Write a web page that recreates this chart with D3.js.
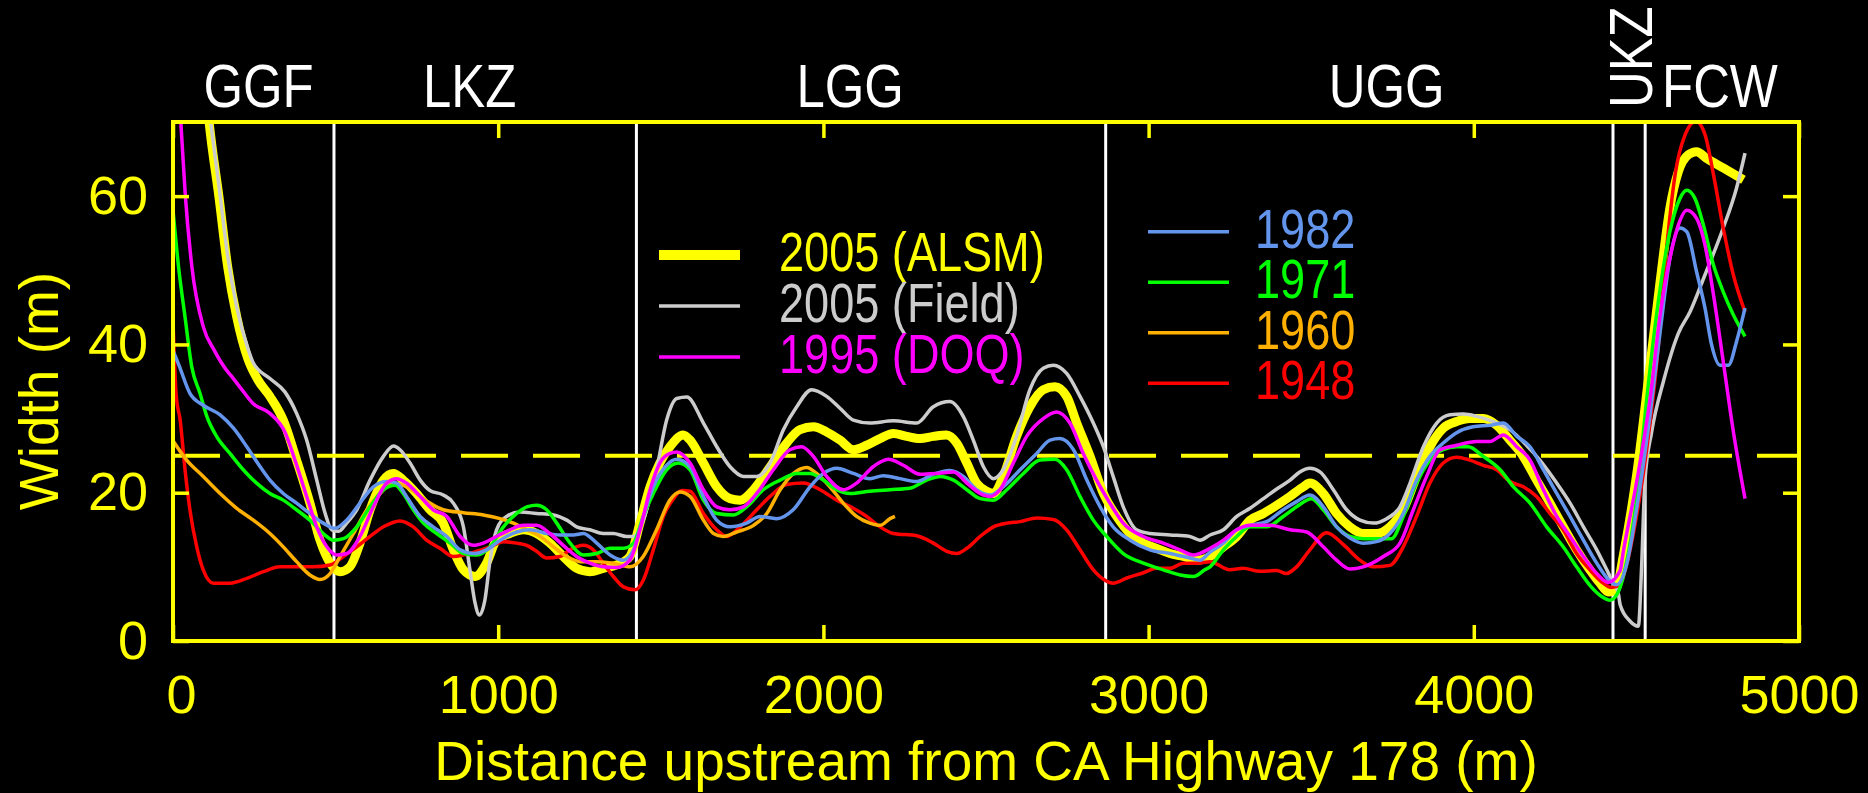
<!DOCTYPE html>
<html>
<head>
<meta charset="utf-8">
<script src="https://cdn.jsdelivr.net/npm/d3@7"></script>
<style>
  body { margin: 0; background: #000; }
  svg { display: block; }
  text { font-family: "Liberation Sans", Arial, sans-serif; }
</style>
</head>
<body>
<svg id="chart"></svg>
<script>
/* channel width (m) vs distance upstream (m) */
var alsm2005 = [[60,95],[100,75],[111,70],[141,60],[168,50.5],[196,43.7],[230,38.1],[260,35.3],[298,33],[339,29.8],[380,24.4],[421,18.6],[452,13.6],[483,10.5],[514,9.35],[544,10],[575,13.2],[606,17.7],[647,21.7],[678,22.6],[708,21.7],[749,19.9],[790,17.7],[831,15.9],[862,12.3],[893,9.6],[929,8.7],[964,10.5],[995,13.6],[1036,14.5],[1077,15],[1118,14.5],[1159,13.2],[1200,11.4],[1241,9.8],[1282,9.35],[1323,9.8],[1364,10.25],[1405,11.4],[1436,15.9],[1467,20.8],[1497,24],[1528,26.2],[1569,27.8],[1590,27.1],[1631,24],[1672,20.8],[1713,19.2],[1744,19],[1785,20.4],[1836,23.5],[1887,26.7],[1928,28.5],[1969,28.9],[2010,28.2],[2051,27.1],[2092,25.8],[2133,26.4],[2174,27.3],[2215,28],[2256,27.6],[2297,27.3],[2338,27.6],[2379,27.8],[2410,26.7],[2441,24],[2471,21.3],[2502,20.2],[2523,19.9],[2553,22.2],[2594,27.6],[2635,31.6],[2676,33.9],[2712,34.3],[2748,33],[2779,29.4],[2820,24.9],[2861,19.9],[2902,16.8],[2943,14.5],[2984,13.2],[3025,12.5],[3066,11.8],[3107,11.4],[3148,10.9],[3189,11.4],[3230,12.7],[3271,14.1],[3312,16.3],[3353,17.2],[3394,18.3],[3435,19.5],[3476,20.8],[3496,21.3],[3537,19.9],[3578,17.2],[3619,15.4],[3660,14.5],[3701,14.5],[3742,15.4],[3783,17.7],[3824,22.2],[3865,26.2],[3906,28.7],[3947,29.6],[3988,30],[4029,30],[4070,29.1],[4111,27.1],[4152,24.9],[4193,21.7],[4234,18.6],[4275,15.4],[4316,12.3],[4357,9.6],[4388,7.8],[4414,6.6],[4439,7.2],[4460,11.6],[4501,22.5],[4542,37.2],[4573,48.5],[4603,58.4],[4629,63.3],[4660,65.6],[4685,66],[4716,65.1],[4767,63.8],[4829,62.2]];

var field2005 = [[60,97],[100,77],[111,72],[141,61.5],[168,52],[196,45],[230,39.5],[247,37.5],[298,35.4],[344,33.6],[380,30.7],[411,27.1],[442,21.7],[468,17.2],[488,15],[510,14.8],[534,15.9],[565,17.7],[606,21.7],[647,24.9],[678,26.3],[698,25.8],[729,24],[760,21.7],[790,20.3],[831,19.7],[862,18.6],[893,15.4],[913,9.6],[929,5.1],[942,3.5],[959,5.5],[975,10.9],[995,15],[1026,16.8],[1067,17.4],[1118,17.2],[1170,17],[1211,16.3],[1241,15.4],[1282,15],[1323,14.5],[1354,14.5],[1395,14.1],[1416,14.1],[1446,16.3],[1487,23.1],[1518,29.8],[1549,32.7],[1580,32.9],[1631,29.4],[1672,26.2],[1713,23.5],[1754,22.2],[1795,22.2],[1836,24],[1877,28.5],[1918,31.6],[1964,33.9],[2010,33],[2051,31.4],[2092,29.8],[2143,29.4],[2215,29.7],[2287,29.4],[2338,31.6],[2389,32.3],[2430,30.3],[2461,27.1],[2492,23.5],[2523,21.9],[2553,23.1],[2594,27.6],[2635,33.9],[2676,36.8],[2707,37.2],[2748,36.1],[2789,33],[2830,29.4],[2861,26.2],[2891,22.2],[2922,18.1],[2963,15],[3004,14.5],[3066,14.3],[3127,14.1],[3158,13.6],[3189,14.3],[3230,15],[3271,16.8],[3312,17.9],[3353,19.2],[3394,20.5],[3435,21.7],[3465,22.8],[3496,23.3],[3527,22.8],[3568,20.4],[3609,17.7],[3650,16.3],[3691,15.9],[3732,16.5],[3773,18.1],[3804,21.3],[3845,26.2],[3886,29.4],[3927,30.5],[3968,30.6],[4009,30.3],[4060,29.6],[4111,28.5],[4162,26.4],[4203,24.4],[4255,21.3],[4296,18.6],[4337,15.4],[4378,12.3],[4409,9.6],[4429,7.8],[4444,6.5],[4450,4.9],[4480,2.7],[4506,2],[4516,10],[4526,21.5],[4547,28.2],[4583,35],[4629,41.5],[4665,44.4],[4711,49.4],[4767,55.7],[4808,61.1],[4834,65.8]];

var doq1995 = [[0,85],[24,70],[38,60],[58,50.5],[93,42.4],[127,39.2],[165,36.5],[182,35.6],[210,34],[247,32],[298,30.7],[344,28.2],[375,24.4],[411,19.5],[442,15.4],[473,12.7],[503,11.6],[534,11.8],[575,14.1],[616,18.1],[657,21.3],[688,21.9],[718,21.3],[760,19.5],[800,17.7],[842,16.8],[883,14.1],[924,12.9],[954,13.2],[995,14.1],[1036,15],[1077,15.6],[1118,15.6],[1159,14.5],[1200,12.9],[1241,11.4],[1282,10.5],[1323,10],[1364,9.9],[1405,10.9],[1436,15],[1467,20.4],[1497,24],[1528,25.3],[1549,25.5],[1590,24],[1631,20.4],[1672,18.1],[1713,17.7],[1754,18.1],[1795,19.9],[1846,23.1],[1897,25.8],[1933,26.2],[1969,24.9],[2010,22.2],[2061,20.4],[2102,21.3],[2153,23.5],[2200,24.5],[2246,23.7],[2297,22.5],[2348,22.6],[2400,22.8],[2441,21.3],[2482,19.9],[2512,19.5],[2543,20.4],[2584,24],[2625,27.6],[2676,30],[2717,30.9],[2758,29.4],[2799,25.3],[2840,21.7],[2881,18.6],[2922,15.9],[2984,14.1],[3045,13.2],[3096,12.3],[3138,11.6],[3189,12.5],[3230,13.6],[3271,15],[3312,15.6],[3373,15.6],[3435,15],[3486,14.7],[3537,12.7],[3578,10.9],[3619,9.7],[3660,10],[3722,11.4],[3773,13.2],[3814,17.7],[3855,22.2],[3896,25.8],[3947,26.4],[4009,26.9],[4050,26.9],[4091,27.8],[4132,26.2],[4173,24.4],[4214,20.4],[4255,16.8],[4296,14.1],[4337,11.4],[4378,9.1],[4414,7.9],[4450,9.5],[4460,12.1],[4501,21.5],[4542,32.7],[4573,44],[4603,51.6],[4629,56.1],[4655,58.1],[4685,57],[4711,53.4],[4737,46.7],[4767,37.7],[4798,28.3],[4834,19.2]];

var y1982 = [[0,39.2],[20,37],[52,33.4],[93,31.8],[145,30.5],[186,28.7],[227,26.2],[268,23.5],[298,21.7],[339,19.9],[380,18.6],[421,17.2],[462,15.9],[498,15.2],[534,16.3],[575,18.6],[616,20.8],[657,21.5],[688,21.3],[718,19.5],[760,16.8],[800,15.4],[842,14.1],[883,12.3],[924,11.8],[964,12.3],[1006,13.6],[1057,14.7],[1098,15],[1149,14.5],[1190,14.3],[1231,14.3],[1262,14.5],[1303,13.2],[1344,11.6],[1385,10.9],[1416,12.3],[1446,16.8],[1477,20.8],[1518,23.7],[1549,24.5],[1590,23.5],[1631,19.5],[1672,16.3],[1713,15.4],[1764,15.9],[1805,16.8],[1856,16.5],[1907,17.7],[1959,20.8],[2000,22.6],[2041,23.3],[2092,22.6],[2143,21.9],[2184,22.3],[2236,21.9],[2287,21.5],[2338,22.5],[2389,23],[2430,22.2],[2471,20.4],[2512,19.7],[2553,20.8],[2605,23.1],[2656,25.3],[2697,27.1],[2727,27.3],[2769,25.8],[2810,21.7],[2851,18.1],[2891,15.4],[2943,13.6],[3004,12.3],[3066,11.8],[3127,11.2],[3158,10.9],[3189,12],[3230,13.2],[3271,15],[3312,15.6],[3363,16.1],[3414,17.7],[3455,18.8],[3496,19.7],[3537,18.1],[3578,15.4],[3619,13.9],[3660,13.2],[3701,13.4],[3742,14.5],[3783,17.2],[3824,21.7],[3865,24.9],[3906,26.7],[3947,28.1],[3998,28.9],[4050,29.1],[4091,29.4],[4132,27.6],[4173,26.2],[4214,23.1],[4255,19.9],[4296,16.8],[4337,13.6],[4378,10.5],[4414,8.3],[4439,7.6],[4470,10.3],[4501,17.9],[4542,30.5],[4573,41.7],[4603,51.6],[4634,55.7],[4655,55.2],[4685,49.8],[4711,44.9],[4731,40],[4757,37.2],[4783,37.2],[4808,40.4],[4834,44.9]];

var y1971 = [[0,58.1],[17,50.5],[37,43.7],[58,36.9],[83,33.4],[104,30.3],[134,27.6],[175,25.3],[216,23.1],[257,21.3],[298,19.9],[339,19],[380,17.7],[421,16.3],[462,14.5],[493,13.6],[524,13.8],[565,15.4],[606,18.1],[647,20.4],[683,21],[708,19.9],[739,17.7],[770,15.9],[811,14.5],[852,13.2],[893,11.8],[934,11.6],[975,12.7],[1016,15.4],[1057,17.2],[1088,18.1],[1118,18.3],[1149,17.7],[1180,15.9],[1221,13.2],[1262,11.6],[1303,11.8],[1344,12.5],[1385,12.5],[1416,13.2],[1446,16.8],[1477,19.9],[1518,23.1],[1554,24],[1590,23.1],[1631,19],[1672,17.2],[1723,17],[1764,18.1],[1815,20.4],[1867,21.7],[1918,22.6],[1959,22.6],[2000,21.7],[2041,20.4],[2082,19.9],[2143,20.2],[2205,20.4],[2266,20.6],[2318,21.7],[2359,22.2],[2400,21.7],[2441,20.4],[2482,19.2],[2523,19],[2564,20.4],[2615,22.6],[2666,24.4],[2712,24.5],[2748,23.1],[2789,19.5],[2830,16.3],[2871,14.1],[2922,11.8],[2984,10.5],[3045,9.6],[3097,8.9],[3138,8.7],[3173,9.6],[3189,10],[3230,12.3],[3271,14.1],[3312,15.4],[3363,15.4],[3414,16.8],[3455,18.1],[3501,19.2],[3537,17.7],[3578,15.4],[3619,14.1],[3660,13.8],[3701,13.8],[3747,13.8],[3783,16.8],[3824,21.3],[3865,24.4],[3906,25.8],[3947,26.2],[3983,26.2],[4029,24.9],[4081,23.1],[4122,20.8],[4173,18.6],[4224,15.4],[4275,12.7],[4316,10],[4357,7.5],[4393,6],[4419,5.5],[4444,6.6],[4470,10.7],[4501,19.3],[4532,32.7],[4562,44],[4603,55.2],[4634,59.7],[4655,60.8],[4680,59.7],[4706,56.1],[4737,50.7],[4767,47.1],[4798,44],[4834,41.1]];

var y1960 = [[0,27],[42,24.4],[93,22.2],[145,19.9],[196,17.9],[247,16.3],[298,14.5],[339,12.7],[380,10.7],[421,8.9],[452,8.3],[483,9.1],[514,11.4],[555,14.5],[596,17.7],[637,19.9],[678,21.3],[708,21],[749,19.9],[790,18.6],[831,17.7],[893,17.3],[954,17],[1006,16.5],[1047,15.9],[1088,15],[1129,14.1],[1170,12.7],[1211,11.4],[1252,10.7],[1303,10.7],[1354,10.5],[1405,10],[1446,11.4],[1487,15],[1528,19],[1559,20.1],[1590,19.5],[1631,16.3],[1662,14.5],[1692,14.1],[1733,14.7],[1785,15.6],[1826,17.2],[1867,20.4],[1908,22.6],[1949,23.4],[1979,22.6],[2020,20.8],[2061,18.6],[2102,16.8],[2143,15.9],[2174,15.6],[2205,16.5],[2220,16.8]];

var y1948 = [[0,43.3],[10,33],[22,29.8],[37,23.1],[52,17.7],[73,12.7],[93,9.6],[124,7.8],[175,7.8],[227,8.45],[278,9.35],[329,10],[380,10],[431,10],[483,10.25],[524,11.4],[565,12.7],[606,14.1],[647,15.4],[698,16.2],[739,15.4],[780,13.6],[821,12.5],[862,11.4],[893,11.6],[934,12.1],[975,12.7],[1016,13.4],[1057,13.2],[1088,12.9],[1118,12.1],[1149,11.2],[1190,11.4],[1221,12.3],[1262,12.9],[1292,12.3],[1323,10.5],[1354,8.7],[1385,7.3],[1421,6.9],[1446,8.2],[1477,12.3],[1508,16.8],[1539,19.2],[1565,20.3],[1590,20.2],[1631,17.2],[1672,15],[1703,14.1],[1744,15.4],[1795,17.7],[1836,19.5],[1887,21.1],[1938,21.3],[1990,20.4],[2041,19],[2092,17.9],[2133,16.8],[2174,15.4],[2215,14.5],[2287,14.2],[2338,13.2],[2379,12.1],[2410,11.8],[2441,12.5],[2482,14.1],[2523,15.4],[2564,15.9],[2605,16.1],[2656,16.6],[2707,16.4],[2748,15],[2789,12.3],[2830,9.6],[2866,8.2],[2891,7.8],[2933,8.5],[2984,9.2],[3025,9.8],[3066,9.8],[3107,10.5],[3148,10.5],[3189,10.7],[3250,9.6],[3291,9.8],[3343,9.4],[3394,9.5],[3424,9.1],[3455,10],[3496,12.3],[3547,14.6],[3599,13],[3650,10.9],[3691,10],[3742,10.2],[3783,12.7],[3824,16.8],[3865,21.3],[3906,24],[3947,24.8],[3988,24.4],[4029,23.7],[4070,23.1],[4111,21.5],[4152,20.8],[4193,19.5],[4234,17.2],[4275,15],[4316,11.8],[4357,9.6],[4398,7.8],[4424,7.2],[4450,7.6],[4470,10.3],[4501,17],[4532,26],[4562,37.2],[4593,53],[4619,62.9],[4650,68.3],[4683,70.1],[4711,68.3],[4737,62.9],[4767,55.7],[4798,49.4],[4834,44.4]];

// reach boundaries and reach names (x in m)
var boundaries = [495, 1425, 2868, 4428, 4527];
var reachNames = ['GGF', 'LKZ', 'LGG', 'UGG', 'FCW'];
var reachPos = [263, 912, 2082, 3732, 4757];
var xTicks = [0, 1000, 2000, 3000, 4000, 5000];
var yTicks = [0, 20, 40, 60];
var refWidth = 25;

var series = [
  {name: '2005 (ALSM)', data: alsm2005, color: '#ffff00', w: 9},
  {name: '2005 (Field)', data: field2005, color: '#cccccc', w: 3.5},
  {name: '1948', data: y1948, color: '#ff0000', w: 3.5},
  {name: '1960', data: y1960, color: '#ffb000', w: 3.5},
  {name: '1971', data: y1971, color: '#00ff00', w: 3.5},
  {name: '1982', data: y1982, color: '#6495ed', w: 3.5},
  {name: '1995 (DOQ)', data: doq1995, color: '#ff00ff', w: 3.5}
];
var legendLeft = ['2005 (ALSM)', '2005 (Field)', '1995 (DOQ)'];
var legendRight = ['1982', '1971', '1960', '1948'];

var width = 1868, height = 793;
var margin = {top: 122, right: 69, bottom: 152, left: 173};
var yellow = '#ffff00';
var squeeze = 0.82;   // no narrow font installed, so squeeze the labels

var svg = d3.select('#chart')
  .attr('width', width)
  .attr('height', height)
  .style('background', '#000');

var x = d3.scaleLinear().domain([0, 5000]).range([margin.left, width - margin.right]);
var y = d3.scaleLinear().domain([0, 70]).range([height - margin.bottom, margin.top]);

svg.append('clipPath').attr('id', 'plot')
  .append('rect')
    .attr('x', x(0)).attr('y', y(70))
    .attr('width', x(5000) - x(0)).attr('height', y(0) - y(70));

// reach boundaries
svg.selectAll('.bound').data(boundaries).enter()
  .append('line')
    .attr('x1', function (d) { return x(d); })
    .attr('x2', function (d) { return x(d); })
    .attr('y1', y(70)).attr('y2', y(0))
    .attr('stroke', '#fff').attr('stroke-width', 3);

svg.append('line')
  .attr('x1', x(0)).attr('x2', x(5000))
  .attr('y1', y(refWidth)).attr('y2', y(refWidth))
  .attr('stroke', yellow).attr('stroke-width', 4)
  .attr('stroke-dasharray', '47,25');

var line = d3.line()
  .x(function (d) { return x(d[0]); })
  .y(function (d) { return y(d[1]); })
  .curve(d3.curveMonotoneX);

svg.append('g').attr('clip-path', 'url(#plot)')
  .selectAll('path').data(series).enter()
  .append('path')
    .attr('d', function (d) { return line(d.data); })
    .attr('fill', 'none')
    .attr('stroke', function (d) { return d.color; })
    .attr('stroke-width', function (d) { return d.w; })
    .attr('stroke-linejoin', 'round');

// frame and inward ticks on all sides
function styleAxis (g) {
  g.select('.domain').remove();
  g.selectAll('.tick line').attr('stroke', yellow).attr('stroke-width', 3.5);
  g.selectAll('.tick text').attr('fill', yellow).style('font-size', '54px')
    .style('font-family', '"Liberation Sans", Arial, sans-serif');
}
svg.append('g').attr('transform', 'translate(0,' + y(0) + ')')
  .call(d3.axisBottom(x).tickValues(xTicks).tickSize(-16).tickPadding(34).tickFormat(d3.format('d')))
  .call(styleAxis)
  .selectAll('.tick text').filter(function (d) { return d === 0; }).attr('dx', 8);
svg.append('g').attr('transform', 'translate(0,' + y(70) + ')')
  .call(d3.axisTop(x).tickValues(xTicks).tickSize(-16).tickFormat(''))
  .call(styleAxis);
svg.append('g').attr('transform', 'translate(' + x(0) + ',0)')
  .call(d3.axisLeft(y).tickValues(yTicks).tickSize(-16).tickPadding(25))
  .call(styleAxis);
svg.append('g').attr('transform', 'translate(' + x(5000) + ',0)')
  .call(d3.axisRight(y).tickValues(yTicks).tickSize(-16).tickFormat(''))
  .call(styleAxis);

svg.append('rect')
  .attr('x', x(0)).attr('y', y(70))
  .attr('width', x(5000) - x(0)).attr('height', y(0) - y(70))
  .attr('fill', 'none').attr('stroke', yellow).attr('stroke-width', 4);

// condensed label: squeeze glyphs with textLength
function narrowText (px, py, str, color, size, anchor, rot) {
  var t = svg.append('text')
    .attr('transform', 'translate(' + px + ',' + py + ')' + (rot ? ' rotate(' + rot + ')' : ''))
    .attr('text-anchor', anchor || 'start')
    .attr('fill', color)
    .style('font-size', size + 'px')
    .text(str);
  var len = t.node().getComputedTextLength();
  t.attr('textLength', len * squeeze).attr('lengthAdjust', 'spacingAndGlyphs');
  return t;
}

// reach names above the frame
reachNames.forEach(function (n, i) {
  narrowText(x(reachPos[i]), 107, n, '#fff', 62, 'middle');
});
narrowText(x(4548), 108, 'UKZ', '#fff', 62, 'start', -90);

// legends
function seriesOf (name) {
  return series.filter(function (s) { return s.name === name; })[0];
}
function legend (names, x0, textX, y0, step) {
  names.forEach(function (n, i) {
    var s = seriesOf(n);
    var yy = y0 + i * step;
    svg.append('line')
      .attr('x1', x0).attr('x2', x0 + 81)
      .attr('y1', yy).attr('y2', yy)
      .attr('stroke', s.color)
      .attr('stroke-width', s.w > 5 ? 10 : 3.5);
    narrowText(textX, yy + 16, n, s.color, 55);
  });
}
legend(legendLeft, 659, 779, 255, 51);
legend(legendRight, 1148, 1255, 231.7, 50.5);

// axis titles
svg.append('text')
  .attr('x', (x(0) + x(5000)) / 2).attr('y', 780)
  .attr('text-anchor', 'middle')
  .attr('fill', yellow)
  .style('font-size', '55px')
  .text('Distance upstream from CA Highway 178 (m)');
svg.append('text')
  .attr('transform', 'translate(58,391) rotate(-90)')
  .attr('text-anchor', 'middle')
  .attr('fill', yellow)
  .style('font-size', '55px')
  .text('Width (m)');
</script>
</body>
</html>
